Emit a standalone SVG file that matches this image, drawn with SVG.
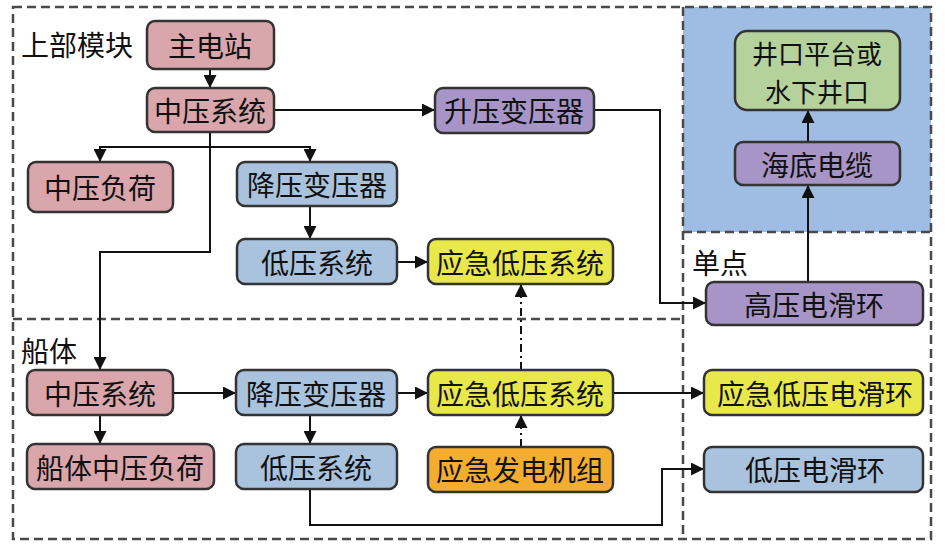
<svg xmlns="http://www.w3.org/2000/svg" width="945" height="547" viewBox="0 0 945 547">
<style>
.box{stroke:#333;stroke-width:2.5}
.pink{fill:#d9a6ab}
.purple{fill:#a695c6}
.blue{fill:#a9c3df}
.yellow{fill:#e9e84a}
.orange{fill:#f4ad2f}
.green{fill:#b5d29c}
text{font-family:"Noto Sans CJK SC","Noto Sans CJK TC",sans-serif;font-size:28px;fill:#111;text-anchor:middle;dominant-baseline:central}
.lbl{text-anchor:start}
.two{font-size:26px}
.dash{fill:none;stroke:#4a4a4a;stroke-width:2.5;stroke-dasharray:9 5}
.c{fill:none;stroke:#111;stroke-width:2}
.dd{fill:none;stroke:#111;stroke-width:2;stroke-dasharray:8 4 2 4}
</style>
<defs>
<marker id="ah" viewBox="0 0 10 10" refX="10" refY="5" markerWidth="6.5" markerHeight="6.5" orient="auto" markerUnits="strokeWidth">
<path d="M0,0 L10,5 L0,10 z" fill="#111"/>
</marker>
</defs>
<rect width="945" height="547" fill="#fff"/>
<g id="regions">
<rect x="683" y="7" width="248" height="225" fill="#9fbde2"/>
<rect class="dash" x="13" y="7" width="918" height="532"/>
<line class="dash" x1="13" y1="319" x2="683" y2="319"/>
<line class="dash" x1="683" y1="7" x2="683" y2="539"/>
<line class="dash" x1="683" y1="232" x2="931" y2="232"/>
<text class="lbl" x="21" y="44">上部模块</text>
<text class="lbl" x="21" y="350">船体</text>
<text class="lbl" x="692" y="262">单点</text>
</g>
<g id="connectors">
<line class="c" x1="210" y1="69" x2="210" y2="88" marker-end="url(#ah)"/>
<line class="c" x1="274" y1="110" x2="435" y2="110" marker-end="url(#ah)"/>
<polyline class="c" points="100,162 100,147 310,147 310,162" />
<line class="c" x1="100" y1="147" x2="100" y2="162" marker-end="url(#ah)"/>
<line class="c" x1="310" y1="147" x2="310" y2="162" marker-end="url(#ah)"/>
<polyline class="c" points="210,132 210,252 100,252 100,370" marker-end="url(#ah)"/>
<line class="c" x1="310" y1="206" x2="310" y2="239" marker-end="url(#ah)"/>
<line class="c" x1="397" y1="262" x2="428" y2="262" marker-end="url(#ah)"/>
<polyline class="c" points="594,110 660,110 660,303 706,303" marker-end="url(#ah)"/>
<line class="c" x1="808" y1="282" x2="808" y2="185" marker-end="url(#ah)"/>
<line class="c" x1="808" y1="142" x2="808" y2="110" marker-end="url(#ah)"/>
<line class="c" x1="173" y1="393" x2="236" y2="393" marker-end="url(#ah)"/>
<line class="c" x1="100" y1="415" x2="100" y2="444" marker-end="url(#ah)"/>
<line class="c" x1="310" y1="415" x2="310" y2="444" marker-end="url(#ah)"/>
<line class="c" x1="397" y1="393" x2="428" y2="393" marker-end="url(#ah)"/>
<line class="c" x1="613" y1="393" x2="704" y2="393" marker-end="url(#ah)"/>
<line class="dd" x1="521" y1="370" x2="521" y2="284" marker-end="url(#ah)"/>
<line class="dd" x1="521" y1="447" x2="521" y2="415" marker-end="url(#ah)"/>
<polyline class="c" points="310,489 310,525 662,525 662,469 704,469" marker-end="url(#ah)"/>
</g>
<g id="n_zhudianzhan"><rect class="box pink" x="147" y="21" width="127" height="48" rx="8"/><text x="210" y="45">主电站</text></g>
<g id="n_zhongya_top"><rect class="box pink" x="147" y="88" width="127" height="44" rx="8"/><text x="210" y="110">中压系统</text></g>
<g id="n_shengya"><rect class="box purple" x="435" y="88" width="159" height="45" rx="8"/><text x="514" y="110">升压变压器</text></g>
<g id="n_zhongyafuhe"><rect class="box pink" x="28" y="162" width="145" height="50" rx="8"/><text x="100" y="187">中压负荷</text></g>
<g id="n_jiangya_top"><rect class="box blue" x="237" y="162" width="160" height="44" rx="8"/><text x="317" y="184">降压变压器</text></g>
<g id="n_diya_top"><rect class="box blue" x="237" y="239" width="160" height="45" rx="8"/><text x="317" y="262">低压系统</text></g>
<g id="n_yingji_top"><rect class="box yellow" x="428" y="239" width="185" height="45" rx="8"/><text x="520" y="262">应急低压系统</text></g>
<g id="n_jingkou"><rect class="box green" x="735" y="31" width="165" height="79" rx="12"/><text class="two" x="817" y="52">井口平台或</text><text class="two" x="817" y="90">水下井口</text></g>
<g id="n_haidi"><rect class="box purple" x="735" y="142" width="165" height="43" rx="8"/><text x="817" y="164">海底电缆</text></g>
<g id="n_gaoya"><rect class="box purple" x="706" y="282" width="217" height="43" rx="8"/><text x="814" y="304">高压电滑环</text></g>
<g id="n_zhongya_hull"><rect class="box pink" x="27" y="370" width="146" height="45" rx="8"/><text x="100" y="393">中压系统</text></g>
<g id="n_chuanti"><rect class="box pink" x="27" y="444" width="187" height="45" rx="8"/><text x="120" y="467">船体中压负荷</text></g>
<g id="n_jiangya_hull"><rect class="box blue" x="236" y="370" width="161" height="45" rx="8"/><text x="316" y="393">降压变压器</text></g>
<g id="n_diya_hull"><rect class="box blue" x="236" y="444" width="161" height="45" rx="8"/><text x="316" y="467">低压系统</text></g>
<g id="n_yingji_hull"><rect class="box yellow" x="428" y="370" width="185" height="45" rx="8"/><text x="520" y="393">应急低压系统</text></g>
<g id="n_fadianji"><rect class="box orange" x="428" y="447" width="185" height="45" rx="8"/><text x="520" y="469">应急发电机组</text></g>
<g id="n_yingji_slip"><rect class="box yellow" x="704" y="370" width="219" height="45" rx="8"/><text x="815" y="393">应急低压电滑环</text></g>
<g id="n_diya_slip"><rect class="box blue" x="704" y="447" width="219" height="45" rx="8"/><text x="815" y="469">低压电滑环</text></g>
</svg>
